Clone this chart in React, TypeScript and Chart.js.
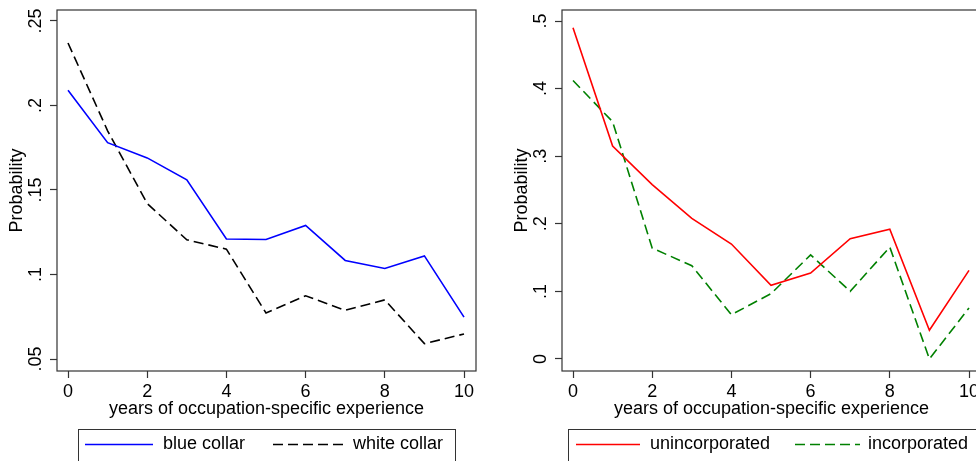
import React, { useEffect, useRef } from "react";
import { Chart, registerables } from "chart.js";

Chart.register(...registerables);

// Years of occupation-specific experience
const years = [0, 1, 2, 3, 4, 5, 6, 7, 8, 9, 10];

// Probabilities by occupation type
const blueCollar = [0.209, 0.178, 0.169, 0.156, 0.121, 0.1207, 0.129, 0.1083, 0.1036, 0.111, 0.0748];
const whiteCollar = [0.237, 0.185, 0.142, 0.1205, 0.115, 0.0772, 0.0874, 0.0788, 0.085, 0.0591, 0.0648];

// Probabilities by business legal form
const unincorporated = [0.49, 0.315, 0.258, 0.208, 0.17, 0.109, 0.127, 0.178, 0.192, 0.0424, 0.131];
const incorporated = [0.412, 0.351, 0.164, 0.138, 0.0655, 0.0966, 0.154, 0.1, 0.1655, 0.0, 0.0754];

const xTickValues = [0, 2, 4, 6, 8, 10];
const xTickLabels = ["0", "2", "4", "6", "8", "10"];
const leftYTickValues = [0.05, 0.1, 0.15, 0.2, 0.25];
const leftYTickLabels = [".05", ".1", ".15", ".2", ".25"];
const rightYTickValues = [0, 0.1, 0.2, 0.3, 0.4, 0.5];
const rightYTickLabels = ["0", ".1", ".2", ".3", ".4", ".5"];

const xTitle = "years of occupation-specific experience";
const yTitle = "Probability";

const FONT_FAMILY = '"Liberation Sans", Arial, Helvetica, sans-serif';
const FONT_SIZE = 18;
const AXIS_COLOR = "#333333";
const TEXT_COLOR = "#000000";

type Series = { label: string; values: number[]; color: string; dash: number[] };
type KeySlot = { x0: number; x1: number; tx: number };
type Panel = {
  series: Series[];
  yMin: number;
  yMax: number;
  yTicks: number[];
  yLabels: string[];
  yTickPad: number;
  keyBox: { left: number; right: number; top: number };
  keySlots: KeySlot[];
};

const panels: Panel[] = [
  {
    series: [
      { label: "blue collar", values: blueCollar, color: "#0000ff", dash: [] },
      { label: "white collar", values: whiteCollar, color: "#000000", dash: [10, 5] },
    ],
    yMin: 0.0429,
    yMax: 0.2565,
    yTicks: leftYTickValues,
    yLabels: leftYTickLabels,
    yTickPad: 1.2,
    keyBox: { left: 78, right: 455, top: 429 },
    keySlots: [
      { x0: 85, x1: 153, tx: 163 },
      { x0: 273, x1: 343, tx: 353 },
    ],
  },
  {
    series: [
      { label: "unincorporated", values: unincorporated, color: "#ff0000", dash: [] },
      { label: "incorporated", values: incorporated, color: "#008000", dash: [10, 5] },
    ],
    yMin: -0.0178,
    yMax: 0.5163,
    yTicks: rightYTickValues,
    yLabels: rightYTickLabels,
    yTickPad: 6.2,
    keyBox: { left: 63, right: 472, top: 429 },
    keySlots: [
      { x0: 71, x1: 135, tx: 145 },
      { x0: 290, x1: 355, tx: 363 },
    ],
  },
];

// Draws the plot frame and the boxed key underneath the axis title
const frameAndKey = {
  id: "frameAndKey",
  afterDraw(chart: any, _args: any, opts: any) {
    const { ctx, chartArea: a } = chart;
    ctx.save();
    ctx.strokeStyle = AXIS_COLOR;
    ctx.lineWidth = 1.2;
    ctx.strokeRect(a.left, a.top, a.right - a.left, a.bottom - a.top);

    const box = opts.box;
    ctx.lineWidth = 1;
    ctx.strokeStyle = AXIS_COLOR;
    ctx.strokeRect(box.left + 0.5, box.top + 0.5, box.right - box.left, 60);

    const midY = box.top + 15.5;
    ctx.font = `${FONT_SIZE}px ${FONT_FAMILY}`;
    ctx.textBaseline = "middle";
    ctx.textAlign = "left";
    chart.data.datasets.forEach((ds: any, i: number) => {
      const slot = opts.slots[i];
      ctx.beginPath();
      ctx.setLineDash(ds.borderDash || []);
      ctx.strokeStyle = ds.borderColor;
      ctx.lineWidth = ds.borderWidth;
      ctx.moveTo(slot.x0, midY);
      ctx.lineTo(slot.x1, midY);
      ctx.stroke();
      ctx.setLineDash([]);
      ctx.fillStyle = TEXT_COLOR;
      ctx.fillText(ds.label, slot.tx, midY);
    });
    ctx.restore();
  },
};

function PanelChart({ panel }: { panel: Panel }) {
  const ref = useRef<HTMLCanvasElement | null>(null);

  useEffect(() => {
    if (!ref.current) return;
    const font = { family: FONT_FAMILY, size: FONT_SIZE };
    const chart = new Chart(ref.current, {
      type: "line",
      data: {
        datasets: panel.series.map((s) => ({
          label: s.label,
          data: years.map((x, i) => ({ x, y: s.values[i] })),
          borderColor: s.color,
          backgroundColor: s.color,
          borderWidth: 1.6,
          borderDash: s.dash,
          pointRadius: 0,
          tension: 0,
          fill: false,
        })),
      },
      options: {
        animation: false,
        responsive: false,
        events: [],
        layout: { padding: { left: 0, top: 10, right: 14, bottom: 40 } },
        plugins: {
          legend: { display: false },
          tooltip: { enabled: false },
          frameAndKey: { box: panel.keyBox, slots: panel.keySlots },
        } as any,
        scales: {
          x: {
            type: "linear",
            min: -0.278,
            max: 10.303,
            afterBuildTicks: (s: any) => {
              s.ticks = xTickValues.map((v) => ({ value: v }));
            },
            afterFit: (s: any) => {
              s.height = 50;
              s.paddingLeft = 0;
              s.paddingRight = 0;
            },
            ticks: {
              autoSkip: false,
              maxRotation: 0,
              padding: 3,
              color: TEXT_COLOR,
              font,
              callback: (_v: any, i: number) => xTickLabels[i],
            },
            grid: {
              drawOnChartArea: false,
              drawTicks: true,
              tickLength: 7,
              tickColor: AXIS_COLOR,
              tickWidth: 1.2,
            },
            border: { display: false },
            title: {
              display: true,
              text: xTitle,
              color: TEXT_COLOR,
              font,
              padding: { top: 0, bottom: 1 },
            },
          },
          y: {
            type: "linear",
            min: panel.yMin,
            max: panel.yMax,
            afterBuildTicks: (s: any) => {
              s.ticks = panel.yTicks.map((v) => ({ value: v }));
            },
            afterFit: (s: any) => {
              s.width = 57;
              s.paddingTop = 0;
              s.paddingBottom = 0;
            },
            ticks: {
              autoSkip: false,
              minRotation: 90,
              maxRotation: 90,
              crossAlign: "center",
              padding: panel.yTickPad,
              color: TEXT_COLOR,
              font,
              callback: (_v: any, i: number) => panel.yLabels[i],
            },
            grid: {
              drawOnChartArea: false,
              drawTicks: true,
              tickLength: 7,
              tickColor: AXIS_COLOR,
              tickWidth: 1.2,
            },
            border: { display: false },
            title: {
              display: true,
              text: yTitle,
              color: TEXT_COLOR,
              font,
              padding: { top: 6, bottom: 0 },
            },
          },
        },
      },
      plugins: [frameAndKey],
    });
    return () => chart.destroy();
  }, [panel]);

  return <canvas ref={ref} width={490} height={461} style={{ display: "block", width: 490, height: 461 }} />;
}

export default function App() {
  return (
    <div
      style={{
        position: "absolute",
        left: 0,
        top: 0,
        width: 976,
        height: 461,
        overflow: "hidden",
        background: "#ffffff",
      }}
    >
      <div style={{ position: "absolute", left: 0, top: 0 }}>
        <PanelChart panel={panels[0]} />
      </div>
      <div style={{ position: "absolute", left: 505, top: 0 }}>
        <PanelChart panel={panels[1]} />
      </div>
    </div>
  );
}
